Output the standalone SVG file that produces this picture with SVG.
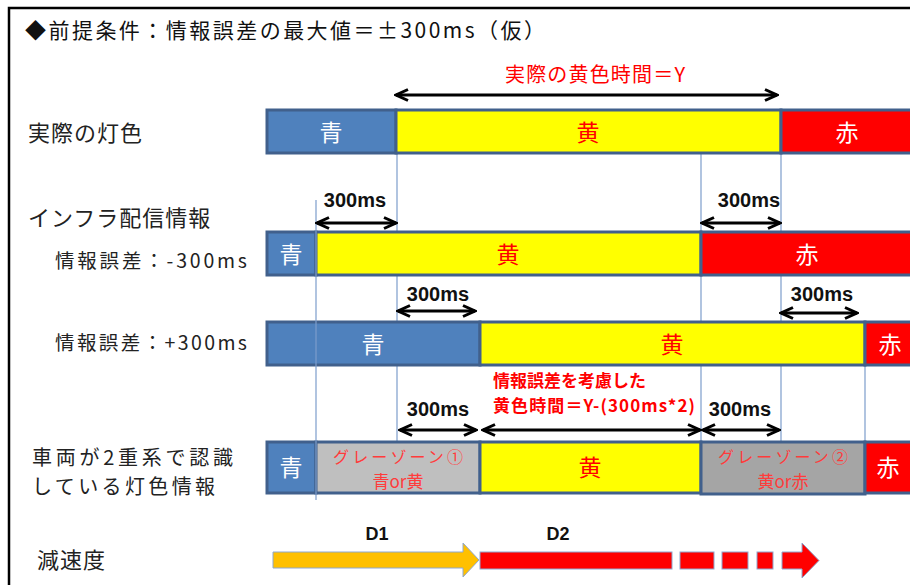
<svg xmlns="http://www.w3.org/2000/svg" width="910" height="585" viewBox="0 0 910 585">
<style>
text{font-family:"Noto Sans CJK JP","Noto Sans",sans-serif}
.lbl{font-size:22px;fill:#222;letter-spacing:1px}
.lbl2{font-size:20px;fill:#222}
.sub{font-size:19.5px;fill:#222}
.seg{stroke:#41608C;stroke-width:3}
.blue{fill:#4F81BD}.yel{fill:#FFFF00}.red{fill:#FF0000}.g1{fill:#BFBFBF}.g2{fill:#A5A5A5}
.st{font-size:23px;text-anchor:middle}
.w{fill:#fff}.r{fill:#FF0000}
.gz{font-size:16px;fill:#FF3B3B;text-anchor:middle}
.gz2{font-size:17px;fill:#FF3B3B;text-anchor:middle}
.ms{font-family:"Liberation Sans",Arial,sans-serif;font-weight:bold;font-size:20px;fill:#111;text-anchor:middle}
.d{font-family:"Liberation Sans",Arial,sans-serif;font-weight:bold;font-size:18px;fill:#111;text-anchor:middle}
.vl{stroke:#7C9DCC;stroke-width:1.2}
.arr{stroke:#000;stroke-width:3;fill:none;marker-start:url(#ah);marker-end:url(#ah)}
.ba{stroke:#8EA8CF;stroke-width:1}
</style>
<defs>
<marker id="ah" viewBox="0 0 16 14" refX="14" refY="7" markerWidth="16" markerHeight="14" markerUnits="userSpaceOnUse" orient="auto-start-reverse">
<path d="M2,1.5 L14,7 L2,12.5" fill="none" stroke="#000" stroke-width="3" stroke-linejoin="miter"/>
</marker>
</defs>
<rect width="910" height="585" fill="#fff"/>
<rect x="9" y="8" width="1000" height="700" fill="none" stroke="#000" stroke-width="2.5"/>
<text id="title" x="25" y="38" font-size="21" fill="#111" textLength="520" lengthAdjust="spacing">◆前提条件：情報誤差の最大値＝±300ms（仮）</text>

<g id="guides">
<line class="vl" x1="397" y1="153" x2="397" y2="442"/>
<line class="vl" x1="701" y1="153" x2="701" y2="442"/>
<line class="vl" x1="781" y1="153" x2="781" y2="442"/>
<line class="vl" x1="865" y1="365" x2="865" y2="442"/>
</g>

<g id="row-actual">
<text class="lbl" x="28" y="141">実際の灯色</text>
<rect class="seg blue" x="267" y="110" width="129" height="43"/>
<rect class="seg yel" x="396" y="110" width="385" height="43"/>
<rect class="seg red" x="781" y="110" width="140" height="43"/>
<text class="st w" x="331" y="141">青</text>
<text class="st r" x="588" y="141">黄</text>
<text class="st w" x="847" y="141">赤</text>
</g>

<g id="label-infra">
<text class="lbl" x="28" y="226">インフラ配信情報</text>
</g>

<g id="row-minus">
<text class="sub" x="55" y="268" textLength="192" lengthAdjust="spacing">情報誤差：-300ms</text>
<rect class="seg blue" x="267" y="232" width="49" height="43"/>
<rect class="seg yel" x="316" y="232" width="385" height="43"/>
<rect class="seg red" x="701" y="232" width="220" height="43"/>
<text class="st w" x="291" y="263">青</text>
<text class="st r" x="508" y="263">黄</text>
<text class="st w" x="807" y="263">赤</text>
</g>

<g id="row-plus">
<text class="sub" x="55" y="350" textLength="192" lengthAdjust="spacing">情報誤差：+300ms</text>
<rect class="seg blue" x="267" y="322" width="213" height="43"/>
<rect class="seg yel" x="480" y="322" width="385" height="43"/>
<rect class="seg red" x="865" y="322" width="56" height="43"/>
<text class="st w" x="373" y="353">青</text>
<text class="st r" x="672" y="353">黄</text>
<text class="st w" x="890" y="353">赤</text>
</g>

<g id="row-vehicle">
<text class="lbl2" x="32" y="465" textLength="201" lengthAdjust="spacing">車両が2重系で認識</text>
<text class="lbl2" x="32" y="494" textLength="183" lengthAdjust="spacing">している灯色情報</text>
<rect class="seg blue" x="267" y="442" width="49" height="51"/>
<rect class="seg g1" x="316" y="442" width="164" height="51"/>
<rect class="seg yel" x="480" y="442" width="221" height="51"/>
<rect class="seg g2" x="701" y="442" width="164" height="52"/>
<rect class="seg red" x="865" y="442" width="56" height="51"/>
<text class="st w" x="291" y="476">青</text>
<text class="gz" x="398" y="463" textLength="130" lengthAdjust="spacing">グレーゾーン①</text>
<text class="gz2" x="398" y="488">青or黄</text>
<text class="st r" x="590" y="476">黄</text>
<text class="gz" x="783" y="463" textLength="130" lengthAdjust="spacing">グレーゾーン②</text>
<text class="gz2" x="783" y="488">黄or赤</text>
<text class="st w" x="888" y="476">赤</text>
</g>

<line class="vl" x1="316" y1="200" x2="316" y2="500"/>

<g id="connectors">
<line class="arr" x1="396" y1="95" x2="777" y2="95"/>
<line class="arr" x1="317" y1="223" x2="396" y2="223"/>
<line class="arr" x1="702" y1="223" x2="780" y2="223"/>
<line class="arr" x1="398" y1="311" x2="475" y2="311"/>
<line class="arr" x1="781" y1="313" x2="857" y2="313"/>
<line class="arr" x1="400" y1="430" x2="476" y2="430"/>
<line class="arr" x1="483" y1="430" x2="700" y2="430"/>
<line class="arr" x1="703" y1="430" x2="779" y2="430"/>
</g>

<g id="annotations">
<text x="505" y="82" font-size="20" fill="#FF0000" textLength="180" lengthAdjust="spacing">実際の黄色時間＝Y</text>
<text class="ms" x="355" y="207">300ms</text>
<text class="ms" x="749" y="207">300ms</text>
<text class="ms" x="438" y="301">300ms</text>
<text class="ms" x="822" y="301">300ms</text>
<text class="ms" x="438" y="416">300ms</text>
<text class="ms" x="740" y="416">300ms</text>
<text x="493" y="387" font-size="17" font-weight="bold" fill="#FF0000">情報誤差を考慮した</text>
<text x="493" y="412" font-size="17" font-weight="bold" fill="#FF0000" textLength="202" lengthAdjust="spacing">黄色時間＝Y-(300ms*2)</text>
</g>

<g id="row-decel">
<text class="lbl" x="37" y="568">減速度</text>
<polygon class="ba" fill="#FFC000" points="273,552 463,552 463,543 479,560 463,577 463,568 273,568"/>
<rect class="ba" fill="#FF0000" x="480" y="552" width="192" height="17"/>
<rect class="ba" fill="#FF0000" x="680" y="552" width="34" height="17"/>
<rect class="ba" fill="#FF0000" x="722" y="552" width="26" height="17"/>
<rect class="ba" fill="#FF0000" x="757" y="552" width="16" height="17"/>
<polygon class="ba" fill="#FF0000" points="782,552 802,552 802,543 819,560.5 802,578 802,569 782,569"/>
<text class="d" x="377" y="540">D1</text>
<text class="d" x="558" y="540">D2</text>
</g>
</svg>
